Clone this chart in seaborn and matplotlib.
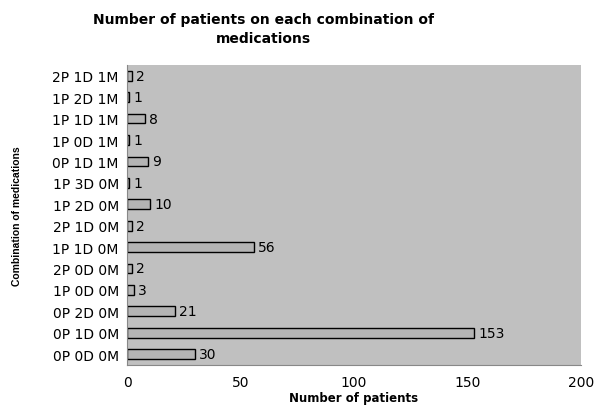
import numpy as np
import matplotlib.pyplot as plt
import seaborn as sns
import pandas as pd

combinations = ['0P 0D 0M', '0P 1D 0M', '0P 2D 0M', '1P 0D 0M', '2P 0D 0M',
                '1P 1D 0M', '2P 1D 0M', '1P 2D 0M', '1P 3D 0M', '0P 1D 1M',
                '1P 0D 1M', '1P 1D 1M', '1P 2D 1M', '2P 1D 1M']
patients = [30, 153, 21, 3, 2, 56, 2, 10, 1, 9, 1, 8, 1, 2]

# top of chart first, like the Excel original
order = combinations[::-1]
df = pd.DataFrame({'combo': combinations, 'n': patients})

sns.set_style('white')
plt.rcParams['font.family'] = ['DejaVu Sans']
plt.rcParams['text.color'] = 'black'
plt.rcParams['xtick.labelcolor'] = 'black'
plt.rcParams['ytick.labelcolor'] = 'black'
plt.rcParams['axes.labelcolor'] = 'black'

fig = plt.figure(figsize=(5.97, 4.06), dpi=100)
ax = fig.add_axes([0.213, 0.099, 0.760, 0.738])
ax.set_facecolor('#c0c0c0')

sns.barplot(data=df, y='combo', x='n', order=order, orient='h',
            color='#b4b4b4', edgecolor='black', linewidth=1.0,
            width=0.45, saturation=1, ax=ax)

for cont in ax.containers:
    ax.bar_label(cont, labels=[f'{v:g}' for v in cont.datavalues],
                 padding=3, fontsize=10, color='black')

ax.set_xlim(0, 200)
ax.set_xticks([0, 50, 100, 150, 200])
ax.set_ylim(len(order) - 0.5, -0.5)
ax.set_yticks(np.arange(len(order) + 1) - 0.5, minor=True)
ax.tick_params(axis='y', which='major', length=0, labelsize=10, pad=6)
ax.tick_params(axis='y', which='minor', length=4, color='#777777', width=0.8)
ax.tick_params(axis='x', length=4, color='#777777', labelsize=10, pad=3)

for s in ['top', 'right']:
    ax.spines[s].set_visible(False)
ax.spines['left'].set_color('#888888')
ax.spines['bottom'].set_color('#888888')

ax.set_xlabel('Number of patients', fontsize=8.5, fontweight='bold', labelpad=2)
ax.set_ylabel('Combination of medications', fontsize=7.5, fontweight='bold',
              labelpad=22, family=['Liberation Sans', 'DejaVu Sans'])
fig.suptitle('Number of patients on each combination of\nmedications',
             x=0.442, y=0.968, fontsize=10, fontweight='bold', linespacing=1.5)

fig.savefig('out.png', dpi=100)
